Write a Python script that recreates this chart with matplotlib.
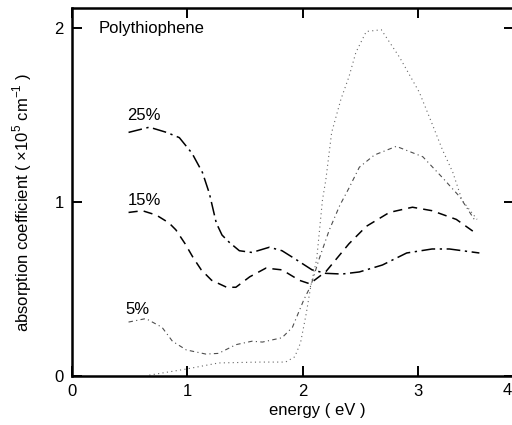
import matplotlib
matplotlib.use("Agg")
import matplotlib.pyplot as plt

plt.rcParams['font.family'] = ['Liberation Sans', 'DejaVu Sans']
plt.rcParams['mathtext.fontset'] = 'custom'
plt.rcParams['mathtext.rm'] = 'Liberation Sans'

# --- data (energy in eV, absorption in 10^5 cm^-1) ---
e_25 = [0.49, 0.67, 0.82, 0.93, 1.04, 1.13, 1.19, 1.25, 1.30, 1.36, 1.45, 1.56,
        1.71, 1.82, 1.94, 2.08, 2.20, 2.34, 2.49, 2.69, 2.90, 3.12, 3.27, 3.53]
a_25 = [1.40, 1.43, 1.40, 1.37, 1.28, 1.17, 1.05, 0.88, 0.81, 0.77, 0.72, 0.71,
        0.74, 0.72, 0.67, 0.61, 0.59, 0.586, 0.598, 0.638, 0.707, 0.73, 0.73, 0.707]

e_15 = [0.49, 0.61, 0.73, 0.84, 0.90, 0.98, 1.05, 1.12, 1.21, 1.34, 1.42, 1.54,
        1.68, 1.82, 1.97, 2.06, 2.20, 2.40, 2.55, 2.75, 2.95, 3.12, 3.33, 3.50]
a_15 = [0.94, 0.95, 0.925, 0.88, 0.84, 0.76, 0.68, 0.61, 0.55, 0.51, 0.51, 0.57,
        0.62, 0.61, 0.55, 0.53, 0.60, 0.76, 0.86, 0.94, 0.97, 0.95, 0.90, 0.82]

e_5 = [0.49, 0.64, 0.78, 0.87, 0.99, 1.16, 1.27, 1.42, 1.56, 1.65, 1.82, 1.91,
       2.01, 2.07, 2.14, 2.23, 2.32, 2.40, 2.49, 2.62, 2.81, 3.04, 3.21, 3.36, 3.50]
a_5 = [0.31, 0.33, 0.28, 0.20, 0.15, 0.126, 0.13, 0.18, 0.20, 0.195, 0.22, 0.28,
       0.44, 0.52, 0.67, 0.84, 0.98, 1.08, 1.20, 1.27, 1.32, 1.26, 1.14, 1.03, 0.885]

e_0 = [0.67, 0.99, 1.27, 1.62, 1.85, 1.93, 1.98, 2.03, 2.07, 2.12, 2.17, 2.20,
       2.25, 2.33, 2.40, 2.46, 2.55, 2.68, 2.84, 3.01, 3.12, 3.21, 3.30, 3.38, 3.51]
a_0 = [0.005, 0.04, 0.075, 0.08, 0.08, 0.11, 0.19, 0.36, 0.52, 0.67, 1.01, 1.13,
       1.40, 1.59, 1.72, 1.86, 1.98, 1.99, 1.83, 1.63, 1.45, 1.30, 1.17, 1.01, 0.90]

labels = ['25%', '15%', '5%']
label_pos = [(0.62, 1.50), (0.63, 1.01), (0.57, 0.38)]

fig = plt.figure(figsize=(5.12, 4.25), dpi=100)
ax = fig.add_axes([72 / 512, 1 - 376 / 425, 442 / 512, 368 / 425])

ax.plot(e_25, a_25, color='black', lw=1.1, dashes=(9, 3, 1.5, 3))
ax.plot(e_15, a_15, color='black', lw=1.1, dashes=(6, 4))
ax.plot(e_5, a_5, color='0.3', lw=0.8, dashes=(4, 3, 1, 3))
ax.plot(e_0, a_0, color='0.4', lw=0.8, dashes=(1, 3))

for txt, (x, y) in zip(labels, label_pos):
    ax.text(x, y, txt, fontsize=12, ha='center', va='center')
ax.text(0.23, 2.0, 'Polythiophene', fontsize=12, ha='left', va='center')

ax.set_xlim(0, 3.83)
ax.set_ylim(0, 2.115)
ax.set_xticks([0, 1, 2, 3])
ax.set_yticks([0, 1, 2])
ax.tick_params(direction='in', length=7, width=1.4, labelsize=12, pad=6,
               top=True, right=True)
# the "4" tick label sits right at the right edge of the frame
ax.text(0.985, -0.018, '4', transform=ax.transAxes, fontsize=12,
        ha='center', va='top')
for s in ax.spines.values():
    s.set_linewidth(1.8)

fig.text(317 / 512, 1 - 410 / 425, 'energy ( eV )', fontsize=12,
         ha='center', va='center')
fig.text(22 / 512, 1 - 202 / 425,
         r'absorption coefficient ( $\times$10$^{5}$ cm$^{-1}$ )',
         fontsize=12, rotation=90, ha='center', va='center')

fig.savefig('out.png', dpi=100)
